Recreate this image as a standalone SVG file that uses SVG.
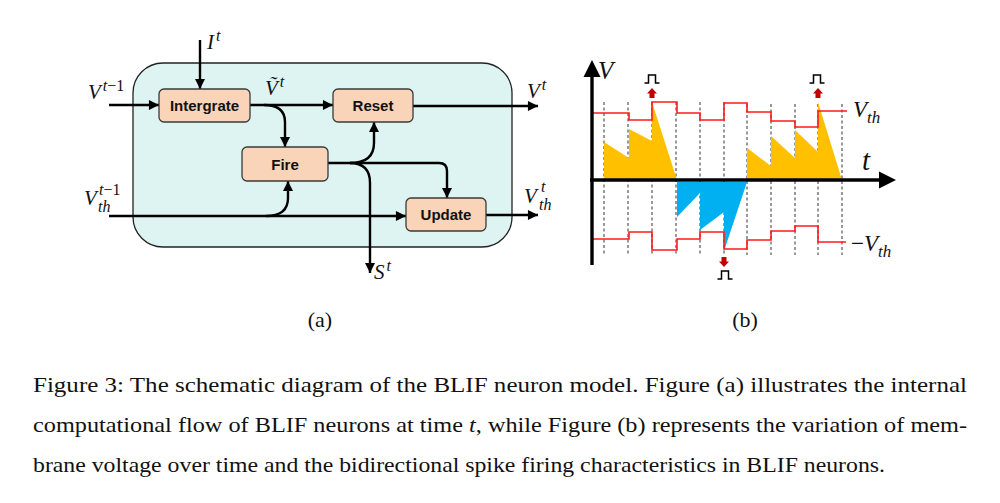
<svg xmlns="http://www.w3.org/2000/svg" width="1000" height="503" viewBox="0 0 1000 503">
<style>
.box{fill:#f9d4b9;stroke:#3a3a3a;stroke-width:1.3}
.bl{font-family:"Liberation Sans",Arial,sans-serif;font-weight:bold;font-size:15px;fill:#111;text-anchor:middle}
.m{font-family:"Liberation Serif","DejaVu Serif",serif;font-style:italic;font-size:21px;fill:#111}
.s{font-size:16px}
.up{font-style:normal}
.cn{fill:none;stroke:#000;stroke-width:2.4}
.dash{stroke:#333;stroke-width:1;stroke-dasharray:3 2.5}
.red{fill:none;stroke:#ff1a1a;stroke-width:1.6}
.cap{font-family:"Liberation Serif","Times New Roman",serif;font-size:22px;fill:#111}
.pulse{fill:none;stroke:#000;stroke-width:1.5}
</style>
<defs>
<marker id="ah" viewBox="0 0 10 10" refX="10" refY="5" markerWidth="4.6" markerHeight="4.2" orient="auto" markerUnits="strokeWidth">
<path d="M0,0 L10,5 L0,10 Z" fill="#000"/>
</marker>
<path id="spk" d="M0,0 L5,5.5 L2.5,5.5 L2.5,10 L-2.5,10 L-2.5,5.5 L-5,5.5 Z" fill="#c00000"/>
<polyline id="pls" points="-7.5,8 -3.5,8 -3.5,0 3.5,0 3.5,8 7.5,8"/>
</defs>
<rect width="1000" height="503" fill="#fff"/>

<!-- Panel (a) -->
<rect id="frame" x="133" y="63" width="379" height="184" rx="30" fill="#ddf4f2" stroke="#222" stroke-width="1.3"/>

<g id="connectors-a">
<path class="cn" d="M200,40 V89" marker-end="url(#ah)"/>
<path class="cn" d="M109,105 H159" marker-end="url(#ah)"/>
<path class="cn" d="M250,105 H333" marker-end="url(#ah)"/>
<path class="cn" d="M264,105 Q285,105 285,122 V147" marker-end="url(#ah)"/>
<path class="cn" d="M413,106 H538" marker-end="url(#ah)"/>
<path class="cn" d="M328,163 H439 Q447,163 447,171 V198" marker-end="url(#ah)"/>
<path class="cn" d="M350,163 Q374,163 374,143 V122" marker-end="url(#ah)"/>
<path class="cn" d="M350,163 Q370,163 370,183 V273" marker-end="url(#ah)"/>
<path class="cn" d="M109,216 H406" marker-end="url(#ah)"/>
<path class="cn" d="M266,216 Q288,216 288,198 V181" marker-end="url(#ah)"/>
<path class="cn" d="M486,215 H538" marker-end="url(#ah)"/>
</g>

<g id="node-intergrate"><rect class="box" x="159" y="89" width="91" height="33" rx="5"/><text class="bl" x="204.5" y="111">Intergrate</text></g>
<g id="node-reset"><rect class="box" x="333" y="89" width="80" height="33" rx="5"/><text class="bl" x="373" y="111">Reset</text></g>
<g id="node-fire"><rect class="box" x="242" y="147" width="86" height="34" rx="5"/><text class="bl" x="285" y="169.5">Fire</text></g>
<g id="node-update"><rect class="box" x="406" y="198" width="80" height="33" rx="5"/><text class="bl" x="446" y="220">Update</text></g>

<g id="labels-a">
<text class="m" x="207" y="49">I<tspan class="s" dx="2" y="41">t</tspan></text>
<text class="m" x="88" y="99">V<tspan class="s" dx="2" y="91">t</tspan><tspan class="s up">−1</tspan></text>
<text class="m" x="265" y="95">Ṽ<tspan class="s" dx="2" y="87">t</tspan></text>
<text class="m" x="527" y="98">V<tspan class="s" dx="2" y="90">t</tspan></text>
<text class="m" x="84" y="205">V<tspan class="s" x="99" y="195">t</tspan><tspan class="s up">−1</tspan><tspan class="s" x="98" y="212">th</tspan></text>
<text class="m" x="524" y="203">V<tspan class="s" x="541" y="192">t</tspan><tspan class="s" x="539" y="210">th</tspan></text>
<text class="m" x="374" y="279">S<tspan class="s" dx="2" y="271">t</tspan></text>
</g>

<!-- Panel (b) -->
<g id="grid">
<path class="dash" d="M604,102 V255 M628,102 V255 M652,102 V255 M676,102 V255 M700,102 V255 M724,102 V255 M747,104 V255 M771,104 V255 M795,104 V255 M818,104 V255 M842,104 V255"/>
</g>
<g id="fills">
<polygon points="604,180 604,142 629,158 629,129 652,141 652,102 677,180" fill="#ffc000"/>
<polygon points="747,180 747,148 771,166 771,136 795,158 795,130 818,152 818,102 842,180" fill="#ffc000"/>
<polygon points="677,182 677,217 700,193 700,230 724,212 724,251 747,182" fill="#00b0f0"/>
</g>
<g id="thresholds">
<polyline class="red" points="593,113 629,113 629,120 652,120 652,102 677,102 677,113 700,113 700,120 724,120 724,103 747,103 747,112 771,112 771,121 795,121 795,127 818,127 818,111 847,111"/>
<polyline class="red" points="593,239 629,239 629,232 652,232 652,250 677,250 677,239 700,239 700,232 724,232 724,249 747,249 747,240 771,240 771,231 795,231 795,226 818,226 818,242 846,242"/>
</g>
<g id="axes">
<path d="M592,265 V76" stroke="#000" stroke-width="3.4"/>
<polygon points="592,60 600.5,77 583.5,77" fill="#000"/>
<path d="M590,180 H880" stroke="#000" stroke-width="3.4"/>
<polygon points="896,180 879,171.5 879,188.5" fill="#000"/>
</g>
<g id="spikes">
<use href="#spk" x="652" y="88"/>
<use href="#pls" class="pulse" x="652" y="75"/>
<use href="#spk" x="818" y="88"/>
<use href="#pls" class="pulse" x="817" y="75"/>
<use href="#spk" transform="translate(724,267) scale(1,-1)"/>
<use href="#pls" class="pulse" x="725" y="271"/>
</g>
<g id="labels-b">
<text class="m" style="font-size:25px" x="598" y="79">V</text>
<text class="m" style="font-size:29px" x="862" y="170">t</text>
<text class="m" style="font-size:23px" x="853" y="117">V<tspan style="font-size:17px" y="123">th</tspan></text>
<text class="m" style="font-size:23px" x="851" y="251"><tspan class="up">−</tspan>V<tspan style="font-size:17px" y="257">th</tspan></text>
</g>

<!-- Captions -->
<text class="cap" x="320" y="327" text-anchor="middle">(a)</text>
<text class="cap" x="745" y="327" text-anchor="middle">(b)</text>
<text class="cap" x="33" y="392" textLength="934" lengthAdjust="spacingAndGlyphs">Figure 3: The schematic diagram of the BLIF neuron model.  Figure (a) illustrates the internal</text>
<text class="cap" x="33" y="432" textLength="934" lengthAdjust="spacingAndGlyphs">computational flow of BLIF neurons at time <tspan font-style="italic">t</tspan>, while Figure (b) represents the variation of mem-</text>
<text class="cap" x="33" y="472" textLength="852" lengthAdjust="spacingAndGlyphs">brane voltage over time and the bidirectional spike firing characteristics in BLIF neurons.</text>
</svg>
